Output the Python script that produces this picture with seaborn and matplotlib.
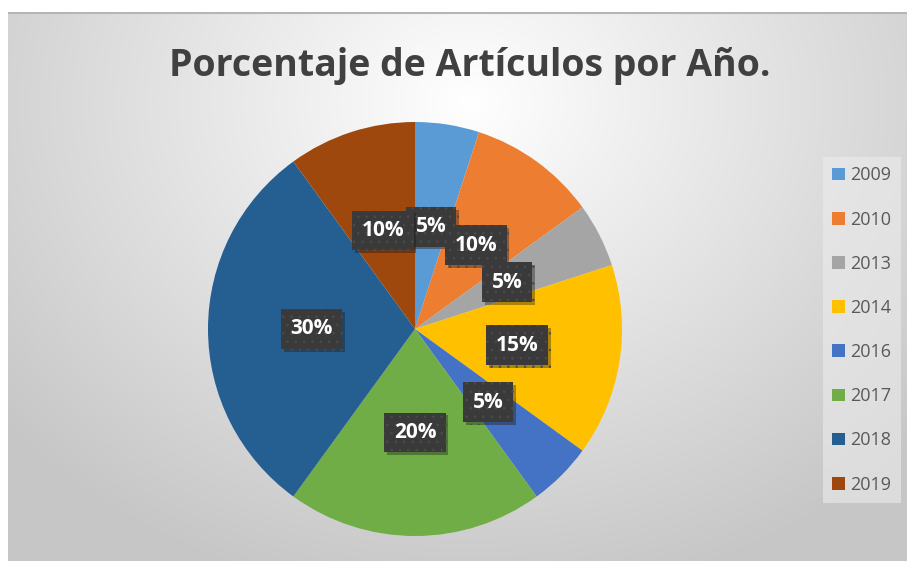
import numpy as np
import seaborn as sns
import matplotlib.pyplot as plt
import matplotlib.patheffects as pe

# Data ----------------------------------------------------------
years = ["2009", "2010", "2013", "2014", "2016", "2017", "2018", "2019"]
percentages = [5, 10, 5, 15, 5, 20, 30, 10]
colors = ["#5B9BD5", "#ED7D31", "#A5A5A5", "#FFC000",
          "#4472C4", "#70AD47", "#255E91", "#9E480E"]
title = "Porcentaje de Artículos por Año."

sns.set_style("white")
plt.rcParams['font.family'] = ['Open Sans', 'DejaVu Sans']
plt.rcParams['hatch.linewidth'] = 0.6

W, H = 907, 561
fig = plt.figure(figsize=(W / 100, H / 100), dpi=100)
fig.patch.set_facecolor("white")

# Radial gradient background (chart area) -----------------------
bg = fig.add_axes([8 / W, 0, (W - 8) / W, (H - 12) / H])
bh, bw = H - 12, W - 8
yy, xx = np.mgrid[0:bh, 0:bw]
d = np.sqrt(((xx - 460) / 600.0) ** 2 + ((yy - 90) / 500.0) ** 2)
shade = 1 - 0.22 * np.clip(d, 0, 1)
bg.imshow(np.dstack([shade] * 3), aspect="auto", interpolation="bilinear")
bg.axhline(0, color="#b5b5b5", lw=1.5)
bg.set_axis_off()

# Pie -----------------------------------------------------------
cx, cy, r = 415, 329, 207
ax = fig.add_axes([(cx - r) / W, (H - cy - r) / H, 2 * r / W, 2 * r / H])
wedges, _, autotexts = ax.pie(
    percentages, colors=colors, startangle=90, counterclock=False,
    autopct="%d%%", pctdistance=0.5, radius=1,
    wedgeprops=dict(linewidth=0),
    textprops=dict(color="white", fontsize=15, fontweight="bold"))
ax.set_xlim(-1, 1)
ax.set_ylim(-1, 1)
ax.set_axis_off()

for t in autotexts:
    t.set_bbox(dict(boxstyle="square,pad=0.45", facecolor="#3a3a3a",
                    edgecolor="#4b4b4b", linewidth=0, hatch=".."))
    t.get_bbox_patch().set_path_effects(
        [pe.SimplePatchShadow(offset=(2, -2), alpha=0.35), pe.Normal()])

# Title ---------------------------------------------------------
fig.text(470 / W, 1 - 66 / H, title, ha="center", va="center",
         fontsize=27, fontweight="bold", color="#404040")

# Legend --------------------------------------------------------
leg = fig.legend(wedges, years, loc="center left",
                 bbox_to_anchor=(818 / W, 1 - 330 / H),
                 frameon=True, fontsize=13, handlelength=0.7,
                 handleheight=0.7, handletextpad=0.3,
                 labelspacing=1.45, borderpad=0.5, borderaxespad=0.3,
                 fancybox=False)
leg.get_frame().set_facecolor("#ececec")
leg.get_frame().set_alpha(0.6)
leg.get_frame().set_edgecolor("none")
for txt in leg.get_texts():
    txt.set_color("#595959")

fig.savefig("out.png", dpi=100)
